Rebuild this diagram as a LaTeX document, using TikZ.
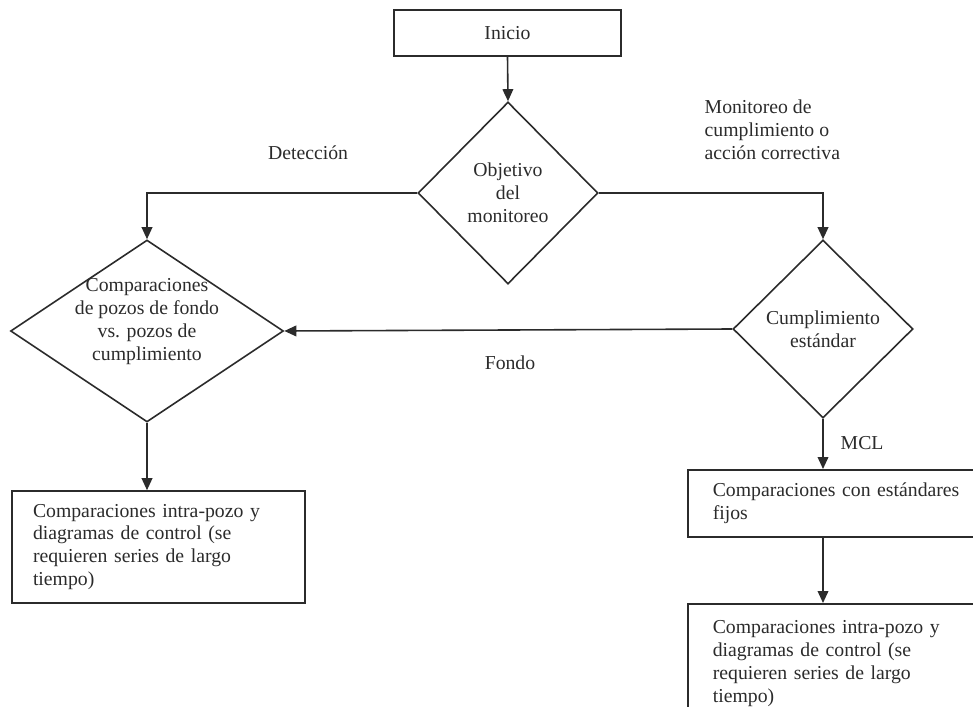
\documentclass[tikz,border=0pt]{standalone}
\usepackage{fontspec}
\setmainfont{Liberation Serif}
\usetikzlibrary{shapes.geometric,arrows.meta,calc}
\definecolor{inkgray}{HTML}{2B2B2B}

\begin{document}
\begin{tikzpicture}[x=0.75pt,y=-0.75pt,
  every node/.style={font=\fontsize{14.8}{17.2}\selectfont, text=inkgray},
  flowbox/.style={draw=inkgray, line width=1.2pt, rectangle, inner sep=0pt},
  decision/.style={draw=inkgray, line width=1.2pt, diamond, inner sep=0pt},
  flowarrow/.style={draw=inkgray, line width=1.2pt, -{Triangle[length=9pt,width=8pt]}}]
  \useasboundingbox (0,0) rectangle (973,706);
  \node[flowbox, minimum width=170pt, minimum height=34.5pt] (inicio) at (507.5,33) {Inicio};
  \node[decision, minimum width=135pt, minimum height=136.5pt,
    label={[align=center]center:Objetivo\\del\\monitoreo}] (objetivo) at (508,193) {};
  \node[decision, minimum width=135pt, minimum height=133.5pt,
    label={[align=center]center:Cumplimiento\\estándar}] (cumple) at (823,329) {};
  \node[decision, minimum width=204.75pt, minimum height=136.5pt,
    label={[align=center,yshift=7pt]center:Comparaciones\\de pozos de fondo\\vs. pozos de\\cumplimiento}] (pozos) at (147,331) {};
  \node[flowbox, minimum height=84pt, inner xsep=15.75pt, text width=188.25pt, align=left] (intraizq) at (158.5,547)
    {Comparaciones intra-pozo y\\diagramas de control (se\\requieren series de largo\\tiempo)};
  \node[flowbox, anchor=north west, minimum height=50.25pt, inner xsep=18.75pt, text width=197.25pt, align=left] (fijos) at (687,469)
    {Comparaciones con estándares\\fijos};
  \node[flowbox, anchor=north west, inner xsep=18.75pt, inner ysep=12.5pt, text width=197.25pt, align=left] (intrader) at (687,603)
    {Comparaciones intra-pozo y\\diagramas de control (se\\requieren series de largo\\tiempo)};
  \node (detlbl) at (308,153) {Detección};
  \node[anchor=west, align=left] (monlbl) at (700,130) {Monitoreo de\\cumplimiento o\\acción correctiva};
  \node (fondolbl) at (510,363) {Fondo};
  \node[anchor=west] (mcllbl) at (836,443) {MCL};
  \draw[flowarrow] (inicio.south) -- (objetivo.north);
  \draw[flowarrow] (objetivo.east) -| (cumple.north);
  \draw[flowarrow] (objetivo.west) -| (pozos.north);
  \draw[flowarrow] (cumple.west) -- (pozos.east);
  \draw[flowarrow] (pozos.south) -- (pozos.south |- intraizq.north);
  \draw[flowarrow] (cumple.south) -- (cumple.south |- fijos.north);
  \draw[flowarrow] (fijos.south -| cumple.south) -- (intrader.north -| cumple.south);
\end{tikzpicture}
\end{document}
